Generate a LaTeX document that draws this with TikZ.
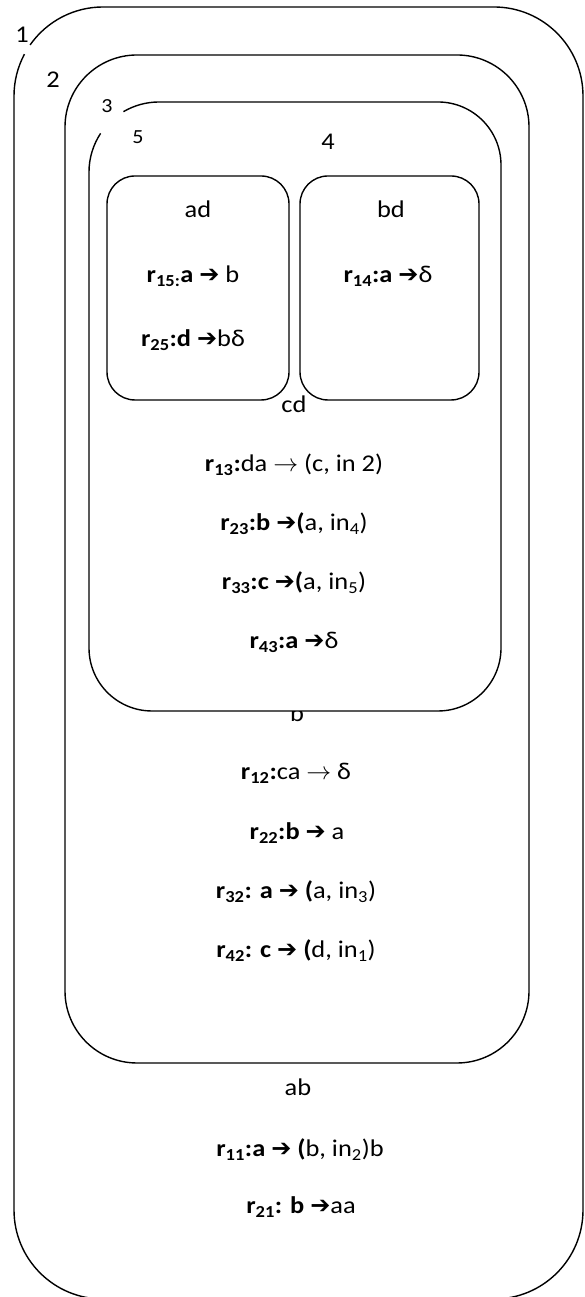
\documentclass[tikz,border=0pt]{standalone}
\usepackage{fontspec}
\setmainfont{Carlito}[FakeStretch=1.1]
\newfontfamily\arrowfont{DejaVu Sans}
\newcommand{\thinarr}{$\rightarrow$}
\newcommand{\boldarr}{{\arrowfont\bfseries ➔}}
\newcommand{\rsub}[1]{\textbf{r\textsubscript{#1}}}

\begin{document}
\begin{tikzpicture}[x=1pt, y=1pt, line width=1.4pt,
    rule/.style={anchor=base, inner sep=0pt, font=\fontsize{24}{28}\selectfont},
    tag/.style={anchor=base, inner sep=0pt, font=\fontsize{24}{28}\selectfont},
    smalltag/.style={tag, font=\fontsize{20}{24}\selectfont}]
  \useasboundingbox (0,0) rectangle (584,1297);

  % membrane 1 (skin), broken next to its label
  \draw (103,1201) ++(145:89) arc[start angle=145, end angle=90, radius=89]
      -- (494,1290) arc[start angle=90, end angle=0, radius=89]
      -- (583,87) arc[start angle=0, end angle=-90, radius=89]
      -- (103,-2) arc[start angle=270, end angle=180, radius=89]
      -- (14,1201) arc[start angle=180, end angle=152, radius=89];
  \node[tag] (m1) at (22,1254) {1};

  % membrane 2
  \draw[rounded corners=72pt] (65,234) rectangle (529,1242);
  \node[tag] (m2) at (53,1209) {2};
  \node[tag] (b) at (297,575) {b};

  % membrane 3, broken between 3 and 5
  \draw[fill=white] (159,1125) ++(120.5:70) arc[start angle=120.5, end angle=90, radius=70]
      -- (438,1195) arc[start angle=90, end angle=0, radius=63]
      -- (501,649) arc[start angle=0, end angle=-90, radius=63]
      -- (152,586) arc[start angle=270, end angle=180, radius=63]
      -- (89,1125) arc[start angle=180, end angle=146.5, radius=70];
  \node[smalltag] (m3) at (107,1184) {3};
  \node[smalltag] (m5) at (138,1153) {5};
  \node[tag] (m4) at (328,1147) {4};

  % membranes 5 and 4
  \draw[rounded corners=28pt] (107,897) rectangle (289,1121);
  \draw[rounded corners=28pt] (300,897) rectangle (479,1121);

  \node[tag] (ad) at (198,1079) {ad};
  \node[rule] (r15) at (193,1014) {\textbf{r\textsubscript{15:}a} \boldarr{} b};
  \node[rule] (r25) at (193,950) {\rsub{25}\textbf{:d} \boldarr{}bδ};

  \node[tag] (bd) at (391,1079) {bd};
  \node[rule] (r14) at (388,1014) {\rsub{14}\textbf{:a} \boldarr{}δ};

  \node[tag] (cd) at (294,884) {cd};
  \node[rule] (r13) at (294,825) {\rsub{13}\textbf{:}da \thinarr{} (c, in 2)};
  \node[rule] (r23) at (294,766) {\rsub{23}\textbf{:b} \boldarr\textbf{(}a, in\textsubscript{4})};
  \node[rule] (r33) at (294,707) {\rsub{33}\textbf{:c} \boldarr\textbf{(}a, in\textsubscript{5})};
  \node[rule] (r43) at (294,648) {\rsub{43}\textbf{:a} \boldarr{}δ};

  \node[rule] (r12) at (296,517) {\rsub{12}\textbf{:}ca \thinarr{} δ};
  \node[rule] (r22) at (297,457) {\rsub{22}\textbf{:b} \boldarr{} a};
  \node[rule] (r32) at (296,398) {\rsub{32}\textbf{: a} \boldarr{} \textbf{(}a, in\textsubscript{3})};
  \node[rule] (r42) at (296,339) {\rsub{42}\textbf{: c} \boldarr{} \textbf{(}d, in\textsubscript{1})};

  \node[tag] (ab) at (298,201) {ab};
  \node[rule] (r11) at (300,140) {\rsub{11}\textbf{:a} \boldarr{} \textbf{(}b, in\textsubscript{2})b};
  \node[rule] (r21) at (301,83) {\rsub{21}\textbf{: b} \boldarr{}aa};
\end{tikzpicture}
\end{document}
